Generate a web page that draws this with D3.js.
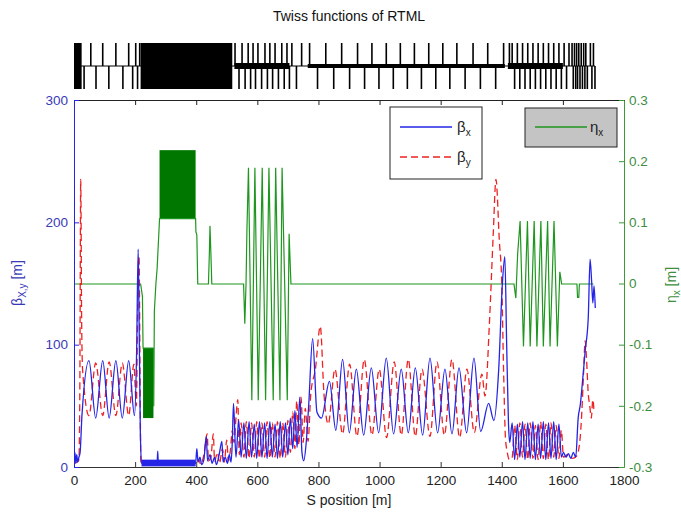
<!DOCTYPE html>
<html>
<head>
<meta charset="utf-8">
<script src="https://cdn.jsdelivr.net/npm/d3@7"></script>
<style>
  body { margin: 0; background: #fff; }
  text { font-family: "Liberation Sans", Arial, sans-serif; }
</style>
</head>
<body>
<svg id="chart" width="681" height="515"></svg>
<script>
// beta_x [m] along S [m]
var betaX = [
  [0,6],[3,12],[6,3],[9,10],[12,4],[16,8],[20,12],[26,42],[49,87],[71,40],[94,87],[115,40],
  [137,87],[158,40],[179,87],[198,42],[205,95],[210,178],[213,120],[217,30],[221,3],
  [272,3],[274,13],[276,3],[398,3],
  [402,15],[406,4],[412,8],[418,2],[425,6],[433,25],[437,5],[445,10],[452,3],[460,8],[466,2],
  [475,10],[484,21],[488,4],[495,8],[502,3],[508,10],[514,4],[518,20],[522,52],[530,8],
  [539,38],[547,8],[556,36],[564,7],[573,37],[581,8],[590,35],[598,7],[607,37],[615,8],
  [624,36],[632,7],[641,37],[649,8],[658,35],[666,7],[675,37],[683,8],[692,36],[700,10],
  [708,40],[716,15],[723,46],[730,16],[739,57],[746,12],[752,5],[760,20],[768,50],[781,105],
  [795,45],[810,40],[836,70],[857,30],[879,88],[901,28],[924,80],[948,26],[973,81],[997,28],
  [1022,89],[1046,27],[1071,80],[1094,28],[1117,81],[1141,26],[1165,89],[1190,28],[1214,80],
  [1237,27],[1260,81],[1285,28],[1309,89],[1331,29],[1357,52],[1374,38],[1390,80],[1402,150],
  [1410,172],[1416,100],[1422,35],[1426,20],
  [1434,36],[1442,6],[1451,35],[1459,8],[1468,37],[1476,6],[1485,36],[1493,7],[1502,37],[1510,6],
  [1519,35],[1527,7],[1536,37],[1544,6],[1553,36],[1561,7],[1570,37],[1578,6],[1587,35],[1595,8],
  [1602,12],[1610,8],[1618,11],[1626,7],[1634,12],[1642,8],[1650,40],[1657,51],[1666,75],
  [1673,95],[1683,122],[1689,170],[1694,152],[1698,134],[1702,148],[1706,130]
];

// beta_y [m] along S [m]
var betaY = [
  [0,3],[10,4],[16,6],[19,60],[22,235],[25,120],[28,80],[49,42],[71,85],[94,42],[115,86],
  [137,42],[158,85],[179,42],[196,84],[204,50],[209,140],[213,172],[216,80],[219,3],
  [300,2],[398,2],
  [400,3],[408,6],[415,2],[425,10],[436,27],[440,5],[448,8],[456,27],[460,5],[470,12],[476,3],
  [486,15],[492,4],[500,22],[505,5],[512,14],[518,30],[524,20],[530,40],[536,55],[541,10],
  [547,36],[556,8],[564,37],[573,7],[581,36],[590,8],[598,37],[607,7],[615,36],[624,8],
  [632,37],[641,7],[649,36],[658,8],[666,37],[675,7],[683,36],[692,8],[700,38],
  [708,12],[716,45],[723,15],[729,54],[736,18],[743,57],[750,20],[757,48],[766,21],[775,60],
  [790,80],[806,115],[818,60],[832,35],[854,80],[879,27],[902,84],[926,25],[950,88],[975,26],
  [999,80],[1023,24],[1048,86],[1071,26],[1094,88],[1117,25],[1139,80],[1165,25],[1188,86],
  [1212,26],[1237,88],[1262,24],[1286,80],[1310,28],[1335,76],[1345,58],[1360,120],[1372,190],
  [1381,235],[1392,185],[1400,150],[1406,78],[1412,24],[1418,12],[1425,6],
  [1434,8],[1442,34],[1451,6],[1459,36],[1468,8],[1476,35],[1485,6],[1493,36],[1502,7],[1510,34],
  [1519,6],[1527,37],[1536,7],[1544,35],[1553,6],[1561,36],[1570,8],[1578,34],[1587,7],[1595,30],
  [1602,8],[1615,10],[1630,7],[1645,9],[1655,20],[1662,45],[1667,73],[1673,103],[1677,90],
  [1683,60],[1688,50],[1693,40],[1698,55],[1702,45]
];

// eta_x [m] along S [m]
var etaX = [
  [0,0],[218,0],[224,-0.02],[226,-0.105],[260,-0.105],[261,-0.2],[263,-0.044],[268,0],
  [272,0.025],[280,0.107],[398,0.107],[399,0.085],[402,0.08],[405,0],[440,0],[443,0.05],
  [445,0.095],[448,0.05],[451,0],[555,0],[559,-0.065],[563,0],[566,0.09],[571,0.19],
  [582,-0.19],[592,0.19],[603,-0.19],[616,0.19],[627,-0.19],[638,0.19],[652,-0.19],[660,0.19],
  [674,-0.19],[681,0.19],[698,-0.19],[704,0.082],[710,0],[1440,0],[1446,-0.023],[1452,0.05],
  [1460,0.103],[1471,-0.102],[1484,0.103],[1493,-0.102],[1506,0.103],[1515,-0.102],
  [1528,0.103],[1536,-0.102],[1550,0.103],[1558,-0.102],[1571,0.103],[1582,-0.102],
  [1590,0.02],[1596,0],[1646,0],[1648,-0.022],[1652,-0.022],[1654,0],[1700,0]
];

// dense oscillation envelopes [s0, s1, low, high]
var betaXBands = [[221, 398, 0.5, 6]];
var etaBands = [[226, 260, -0.22, -0.105], [280, 398, 0.107, 0.218]];

// lattice: focusing (up) / defocusing (down) quads, dense blocks, bend strings
var quadsUp = [55,94,137,179,202,215,527,550,570,586,602,625,641,658,680,697,713,745,771,
  824,876,928,975,1022,1068,1114,1161,1207,1253,1306,1354,1406,1425,1434,1451,1468,1485,
  1502,1519,1536,1553,1570,1587,1604,1620,1630,1638,1645,1652,1660,1668,1675,1690,1700];
var quadsDown = [5,15,33,72,114,160,192,208,540,560,578,594,614,633,650,669,688,705,728,
  797,850,902,951,998,1045,1091,1137,1184,1230,1280,1330,1380,1442,1459,1476,1493,1510,
  1527,1544,1561,1578,1595,1612,1634,1642,1648,1656,1664,1672,1680,1695,1705];
var latticeBlocks = [[0, 25], [218, 518]];
var bendsStrong = [[525, 705], [1420, 1600]];
var bendsWeak = [[765, 1410]];

var sTicks = [0,200,400,600,800,1000,1200,1400,1600,1800];
var betaTicks = [0,100,200,300];
var etaTicks = [-0.3,-0.2,-0.1,0,0.1,0.2,0.3];

var svg = d3.select('#chart');
var L = 74, R = 624, T = 100, B = 467;
var x = d3.scaleLinear().domain([0, 1800]).range([L, R]);
var yB = d3.scaleLinear().domain([0, 300]).range([B, T]);
var yE = d3.scaleLinear().domain([-0.3, 0.3]).range([B, T]);

var blue = '#2424e6', red = '#ee2222', green = '#1f961f';
var blueTxt = '#3a3ab8', greenTxt = '#3e8e3e';
var font = '"Liberation Sans", Arial, sans-serif';

svg.append('rect').attr('width', 681).attr('height', 515).attr('fill', '#fff');

// title
svg.append('text').attr('x', 349).attr('y', 21).attr('text-anchor', 'middle')
  .attr('font-size', 14).attr('fill', '#111').text('Twiss functions of RTML');

// lattice strip
var lt = 43, lm = 66, lb = 89;
var lat = svg.append('g');
lat.append('line').attr('x1', x(0)).attr('x2', x(1705)).attr('y1', lm).attr('y2', lm)
  .attr('stroke', '#000').attr('stroke-width', 1);
lat.selectAll('rect.blk').data(latticeBlocks).enter().append('rect')
  .attr('x', d => x(d[0])).attr('width', d => x(d[1]) - x(d[0]))
  .attr('y', lt).attr('height', lb - lt).attr('fill', '#000');
lat.selectAll('rect.bs').data(bendsStrong).enter().append('rect')
  .attr('x', d => x(d[0])).attr('width', d => x(d[1]) - x(d[0]))
  .attr('y', lm - 3).attr('height', 6).attr('fill', '#000');
lat.selectAll('rect.bw').data(bendsWeak).enter().append('rect')
  .attr('x', d => x(d[0])).attr('width', d => x(d[1]) - x(d[0]))
  .attr('y', lm - 2).attr('height', 4).attr('fill', '#000');
lat.selectAll('line.up').data(quadsUp).enter().append('line')
  .attr('x1', d => x(d)).attr('x2', d => x(d)).attr('y1', lt).attr('y2', lm)
  .attr('stroke', '#000').attr('stroke-width', 1.6);
lat.selectAll('line.dn').data(quadsDown).enter().append('line')
  .attr('x1', d => x(d)).attr('x2', d => x(d)).attr('y1', lm).attr('y2', lb)
  .attr('stroke', '#000').attr('stroke-width', 1.6);

// clip
svg.append('clipPath').attr('id', 'clip').append('rect')
  .attr('x', L).attr('y', T).attr('width', R - L).attr('height', B - T);
var plot = svg.append('g').attr('clip-path', 'url(#clip)');

// eta
plot.selectAll('rect.eb').data(etaBands).enter().append('rect')
  .attr('x', d => x(d[0])).attr('width', d => x(d[1]) - x(d[0]))
  .attr('y', d => yE(d[3])).attr('height', d => yE(d[2]) - yE(d[3]))
  .attr('fill', '#007800');
plot.append('path').datum(etaX)
  .attr('d', d3.line().x(d => x(d[0])).y(d => yE(d[1])))
  .attr('transform', 'translate(0,0.5)')
  .attr('fill', 'none').attr('stroke', green).attr('stroke-width', 1.2);

// beta y (dashed) then beta x
var lineB = d3.line().x(d => x(d[0])).y(d => yB(d[1])).curve(d3.curveMonotoneX);
plot.append('path').datum(betaY).attr('d', lineB)
  .attr('fill', 'none').attr('stroke', red).attr('stroke-width', 1.3)
  .attr('stroke-dasharray', '7,4');
plot.selectAll('rect.bb').data(betaXBands).enter().append('rect')
  .attr('x', d => x(d[0])).attr('width', d => x(d[1]) - x(d[0]))
  .attr('y', d => yB(d[3])).attr('height', d => yB(d[2]) - yB(d[3]))
  .attr('fill', blue);
plot.append('path').datum(betaX).attr('d', lineB)
  .attr('fill', 'none').attr('stroke', blue).attr('stroke-width', 1.3);

// axes
var gB = svg.append('g').attr('transform', 'translate(0,' + B + ')')
  .call(d3.axisBottom(x).tickValues(sTicks).tickFormat(d3.format('d'))
    .tickSizeInner(-5).tickSizeOuter(0).tickPadding(8));
gB.select('.domain').attr('stroke', '#333');
gB.selectAll('line').attr('stroke', '#333');
gB.selectAll('text').attr('font-size', 13.5).attr('fill', '#222').attr('font-family', font);

var gT = svg.append('g').attr('transform', 'translate(0,' + T + ')')
  .call(d3.axisTop(x).tickValues(sTicks).tickSizeInner(-5).tickSizeOuter(0).tickFormat(''));
gT.select('.domain').attr('stroke', '#222');
gT.selectAll('line').attr('stroke', '#222');

var gL = svg.append('g').attr('transform', 'translate(' + L + ',0)')
  .call(d3.axisLeft(yB).tickValues(betaTicks).tickSizeInner(-5).tickSizeOuter(0).tickPadding(6));
gL.select('.domain').attr('stroke', blue);
gL.selectAll('line').attr('stroke', blue);
gL.selectAll('text').attr('font-size', 13.5).attr('fill', blueTxt).attr('font-family', font);

var gR = svg.append('g').attr('transform', 'translate(' + R + ',0)')
  .call(d3.axisRight(yE).tickValues(etaTicks).tickSizeInner(-5).tickSizeOuter(0).tickPadding(5)
    .tickFormat(d => Math.abs(d) < 1e-9 ? '0' : d.toFixed(1)));
gR.select('.domain').attr('stroke', '#3a9a3a');
gR.selectAll('line').attr('stroke', '#3a9a3a');
gR.selectAll('text').attr('font-size', 13.5).attr('fill', greenTxt).attr('font-family', font);

// axis labels
svg.append('text').attr('x', 349).attr('y', 505).attr('text-anchor', 'middle')
  .attr('font-size', 14).attr('fill', '#222').text('S position [m]');

var yl = svg.append('text').attr('transform', 'translate(22,283) rotate(-90)')
  .attr('text-anchor', 'middle').attr('font-size', 14).attr('fill', blueTxt);
yl.append('tspan').text('β');
yl.append('tspan').attr('font-size', 10).attr('dy', 4).text('X,y');
yl.append('tspan').attr('dy', -4).text(' [m]');

var yr = svg.append('text').attr('transform', 'translate(676,285) rotate(-90)')
  .attr('text-anchor', 'middle').attr('font-size', 14).attr('fill', greenTxt);
yr.append('tspan').text('η');
yr.append('tspan').attr('font-size', 10).attr('dy', 4).text('x');
yr.append('tspan').attr('dy', -4).text(' [m]');

// legend 1
var lg1 = svg.append('g');
lg1.append('rect').attr('x', 390).attr('y', 107).attr('width', 92).attr('height', 72)
  .attr('fill', '#fff').attr('stroke', '#222').attr('stroke-width', 1);
var leg1 = [{ name: 'x', color: blue, dash: null }, { name: 'y', color: red, dash: '7,4' }];
leg1.forEach(function(d, i) {
  var yy = 127 + i * 30;
  lg1.append('line').attr('x1', 400).attr('x2', 452).attr('y1', yy).attr('y2', yy)
    .attr('stroke', d.color).attr('stroke-width', 1.3).attr('stroke-dasharray', d.dash);
  var t = lg1.append('text').attr('x', 457).attr('y', yy + 5).attr('font-size', 15).attr('fill', '#222');
  t.append('tspan').text('β');
  t.append('tspan').attr('font-size', 10).attr('dy', 4).text(d.name);
});

// legend 2
var lg2 = svg.append('g');
lg2.append('rect').attr('x', 525).attr('y', 108).attr('width', 92).attr('height', 39)
  .attr('fill', '#c4c4c4').attr('stroke', '#222').attr('stroke-width', 1);
lg2.append('line').attr('x1', 535).attr('x2', 587).attr('y1', 127).attr('y2', 127)
  .attr('stroke', green).attr('stroke-width', 1.3);
var t2 = lg2.append('text').attr('x', 590).attr('y', 132).attr('font-size', 15).attr('fill', '#222');
t2.append('tspan').text('η');
t2.append('tspan').attr('font-size', 10).attr('dy', 4).text('x');
</script>
</body>
</html>
